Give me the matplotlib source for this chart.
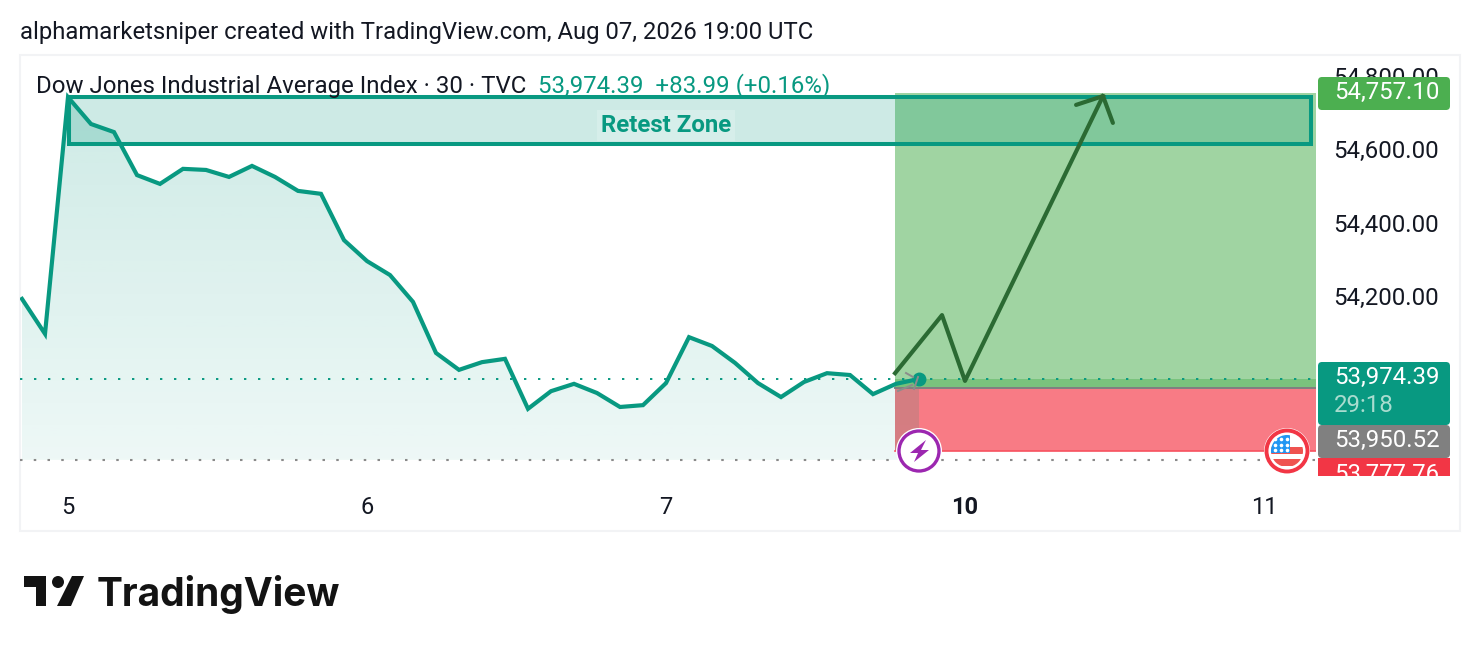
import numpy as np
import matplotlib.pyplot as plt
from matplotlib.patches import Rectangle, Circle, Polygon, FancyBboxPatch

plt.rcParams['font.family'] = ['Roboto', 'DejaVu Sans']

W, H = 1480, 652

# 30 min closes, one per bar
closes = [54192, 54097, 54741, 54668, 54646, 54529, 54505, 54546, 54543, 54524,
          54554, 54524, 54486, 54478, 54352, 54295, 54257, 54184, 54045, 53999,
          54020, 54029, 53893, 53941, 53961, 53936, 53898, 53903, 53963, 54088,
          54064, 54018, 53963, 53925, 53966, 53990, 53985, 53933, 53961, 53974.39]

day_bars = [2, 15, 28, 41, 54]
day_labels = ['5', '6', '7', '10', '11']
price_ticks = [54000, 54200, 54400, 54600, 54800]

last_price = 53974.39
base_price = 53754
entry = 53950.52
target = 54752
stop = 53777.76
pos_start = 37.96
pos_end = 56.26

zone_bars = [2.04, 56.04]
zone_prices = [54741, 54614]

arrow_bars = [37.96, 40.0, 41.0, 47.0]
arrow_prices = [53990, 54148, 53969, 54744]
head_bars = [45.83, 47.0, 47.43]
head_prices = [54720, 54744, 54671]

TEAL = '#089981'
DARK = '#2b6a33'
TXT = '#131722'
SCALE = 0.3675  # px per point

fig = plt.figure(figsize=(W / 100, H / 100), dpi=100)

# panel frame
bg = fig.add_axes([0, 0, 1, 1])
bg.set_xlim(0, W)
bg.set_ylim(H, 0)
bg.axis('off')
bg.add_patch(Rectangle((20, 55), 1440, 476, fc='white', ec='#f2f3f5', lw=1.5))

left, right, top, bottom = 20, 1316, 55, 476
xlims = ((left - 22) / 23, (right - 22) / 23)
ylims = (54600 - (bottom - 149) / SCALE, 54600 + (149 - top) / SCALE)
ax = fig.add_axes([left / W, 1 - bottom / H, (right - left) / W, (bottom - top) / H])
ax.patch.set_alpha(0)
for s in ax.spines.values():
    s.set_visible(False)

bars = np.arange(len(closes))

# gradient under the line
grad = np.zeros((256, 1, 4))
grad[:, 0, :3] = plt.matplotlib.colors.to_rgb(TEAL)
grad[:, 0, 3] = np.linspace(0.2, 0.07, 256)
im = ax.imshow(grad, aspect='auto', zorder=1,
               extent=[bars[0], bars[-1], base_price, zone_prices[0]])
verts = list(zip(bars, closes)) + [(bars[-1], base_price), (bars[0], base_price)]
im.set_clip_path(Polygon(verts, transform=ax.transData))
ax.set_xlim(xlims)
ax.set_ylim(ylims)

# long position tool
ax.add_patch(Rectangle((pos_start, entry), pos_end - pos_start, target - entry,
                       fc='#4caf50', alpha=0.53, ec='none', zorder=2))
ax.add_patch(Rectangle((pos_start, entry), pos_end - pos_start, last_price - entry,
                       fc='#4caf50', alpha=0.45, ec='none', zorder=2))
ax.add_patch(Rectangle((pos_start, stop), pos_end - pos_start, entry - stop,
                       fc='#f7525f', alpha=0.76, ec='none', zorder=2))
ax.add_patch(Rectangle((pos_start, stop), bars[-1] - pos_start, entry - stop,
                       fc=TEAL, alpha=0.13, ec='none', zorder=2))
ax.plot([pos_start, pos_end], [entry, entry], color='#808080', lw=1.4, zorder=3)
ax.plot([pos_start, pos_end], [stop, stop], color='#f7525f', lw=1.2, zorder=3)

# dotted levels
ax.plot([xlims[0], pos_end], [last_price, last_price], color=TEAL, lw=1.4,
        dashes=(1.2, 6), zorder=3)
ax.plot([xlims[0], pos_end], [base_price, base_price], color='#8a8a8a', lw=1.5,
        dashes=(1.2, 5.4), zorder=1.5)

# retest zone
ax.add_patch(Rectangle((zone_bars[0], zone_prices[1]), zone_bars[1] - zone_bars[0],
                       zone_prices[0] - zone_prices[1], fc=TEAL, alpha=0.2, ec='none', zorder=4))
ax.add_patch(Rectangle((zone_bars[0], zone_prices[1]), zone_bars[1] - zone_bars[0],
                       zone_prices[0] - zone_prices[1], fc='none', ec=TEAL, lw=2.9, zorder=6))
ax.text(28, 54665, 'Retest Zone', color=TEAL, fontsize=17.3, fontweight='bold', ha='center',
        va='center', zorder=7,
        bbox=dict(fc='white', alpha=0.2, ec='none', pad=3))

ax.plot(bars, closes, color=TEAL, lw=3, solid_joinstyle='miter', zorder=5)
ax.plot(bars[-1], closes[-1], 'o', color=TEAL, ms=9, zorder=7)

# arrow
ax.plot(arrow_bars, arrow_prices, color=DARK, lw=3, zorder=6)
ax.plot(head_bars, head_prices, color=DARK, lw=3, solid_capstyle='round', zorder=6)

# axis ticks
ax.yaxis.tick_right()
ax.set_yticks(price_ticks)
ax.set_yticklabels(['{:,.2f}'.format(p) for p in price_ticks], fontsize=17.3, color=TXT)
ax.set_xticks(day_bars)
ax.set_xticklabels(day_labels, fontsize=17, color=TXT)
ax.get_xticklabels()[3].set_fontweight('bold')
ax.tick_params(axis='y', length=0, pad=12.2)
ax.tick_params(axis='x', length=0, pad=14.5)

# things drawn in pixels on top
top_ax = fig.add_axes([0, 0, 1, 1])
top_ax.set_xlim(0, W)
top_ax.set_ylim(H, 0)
top_ax.axis('off')
top_ax.patch.set_alpha(0)


def tag(y0, y1, color):
    top_ax.add_patch(FancyBboxPatch((1320, y0 + 2), 128, y1 - y0 - 4,
                                    boxstyle='round,pad=2,rounding_size=4', fc=color, ec='none'))


tag(77, 110, '#4caf50')
tag(362, 425, TEAL)
tag(425, 458, '#808080')
red = Rectangle((1318, 458), 132, 18, fc='#f23645', ec='none')
top_ax.add_patch(red)

top_ax.text(1334, 92.5, '54,757.10', color='white', fontsize=17.3, va='center')
top_ax.text(1334, 377.5, '53,974.39', color='white', fontsize=17.3, va='center')
top_ax.text(1334, 405.5, '29:18', color='#a9dccf', fontsize=17.3, va='center')
top_ax.text(1334, 440, '53,950.52', color='white', fontsize=17.3, va='center')
t = top_ax.text(1334, 474, '53,777.76', color='white', fontsize=17.3, va='center')
t.set_clip_path(red)

# small dashes round the last point
for xs, ys in [([906, 913], [373, 377]), ([898, 912], [391, 385]), ([914, 918], [389, 377])]:
    top_ax.plot(xs, ys, color='#8c8c8c', lw=1.4, zorder=1)

# purple icon
top_ax.add_patch(Circle((919, 451), 23, fc='white', ec='none'))
top_ax.add_patch(Circle((919, 451), 20, fc='white', ec='#9c27b0', lw=2.4))
top_ax.add_patch(Polygon([(926, 440), (910, 453), (918, 453), (914, 462), (929, 450), (921, 450)],
                         fc='#9c27b0', ec='none'))

# flag icon
top_ax.add_patch(Circle((1287, 451), 23, fc='white', ec='none'))
top_ax.add_patch(Circle((1287, 451), 20.5, fc='white', ec='#f23645', lw=2.8))
clip = Circle((1287, 451), 16, transform=top_ax.transData)
for y0 in [447, 459]:
    p = top_ax.add_patch(Rectangle((1271, y0), 33, 7, fc='#ef5350', ec='none'))
    p.set_clip_path(clip)
p = top_ax.add_patch(Rectangle((1271, 434), 19, 19, fc='#2196f3', ec='none'))
p.set_clip_path(clip)
for sy in [439, 444.5, 450]:
    top_ax.plot([1275, 1281, 1287], [sy] * 3, 'o', color='white', ms=2.6, mew=0)

# header texts
fig.text(20 / W, 1 - 32 / H, 'alphamarketsniper created with TradingView.com, Aug 07, 2026 19:00 UTC',
         fontsize=17.2, color=TXT, va='center')
fig.text(36 / W, 1 - 86 / H, 'Dow Jones Industrial Average Index \u00b7 30 \u00b7 TVC',
         fontsize=17.25, color=TXT, va='center')
fig.text(538 / W, 1 - 86 / H, '53,974.39  +83.99 (+0.16%)', fontsize=17.25, color=TEAL, va='center')

# logo
logo = '#131313'
top_ax.add_patch(Polygon([(24, 576), (46, 576), (46, 606), (36, 606), (36, 587), (24, 587)], fc=logo, ec='none'))
top_ax.add_patch(Circle((58, 582), 6, fc=logo, ec='none'))
top_ax.add_patch(Polygon([(72, 576), (84, 576), (71, 606), (57, 606)], fc=logo, ec='none'))
top_ax.text(97, 594, 'TradingView', fontsize=28, fontweight='bold', family='Inter', color=logo, va='center')

plt.savefig('out.png', dpi=100)
